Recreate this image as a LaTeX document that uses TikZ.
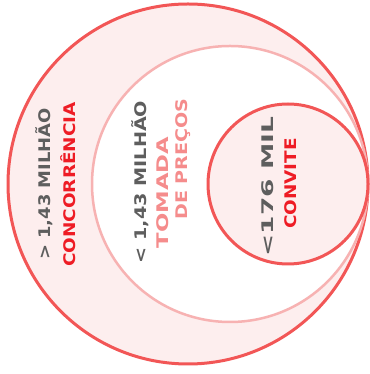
\documentclass[tikz,border=0pt]{standalone}
\usepackage{fontspec}
\setmainfont{DejaVu Sans}
\usepackage{tikz}

\definecolor{ringred}{HTML}{F25656}
\definecolor{ringpink}{HTML}{F7B2B2}
\definecolor{fillpink}{HTML}{FDEEEE}
\definecolor{txtgray}{HTML}{5E5E5E}
\definecolor{txtred}{HTML}{EE1C25}
\definecolor{txtpink}{HTML}{F58C8C}

\tikzset{
  ring/.style={circle, draw=ringred, line width=3pt, fill=fillpink, inner sep=0pt},
  valuelabel/.style={rotate=90, text=txtgray, font=\bfseries\fontsize{16}{16}\selectfont, inner sep=0pt},
  kindlabel/.style={rotate=90, text=txtred, font=\bfseries\fontsize{16}{16}\selectfont, inner sep=0pt}
}

\begin{document}
\begin{tikzpicture}[x=1pt, y=1pt]
  \useasboundingbox (0,0) rectangle (369,374);
  % circles
  \node[ring, minimum size=360pt] (outer) at (188, 190) {};
  \node[ring, draw=ringpink, line width=2.5pt, fill=white, minimum size=276pt] (middle) at (230, 190) {};
  \node[ring, minimum size=160pt] (inner) at (288, 190) {};
  % labels
  \node[valuelabel, xscale=1.12] (concval) at (44, 190) {> 1,43 MILHÃO};
  \node[kindlabel, xscale=1.15] (concname) at (68, 189.5) {CONCORRÊNCIA};
  \node[valuelabel, xscale=1.2] (tomval) at (140, 192) {< 1,43 MILHÃO};
  \node[kindlabel, text=txtpink, xscale=1.42] (tomname) at (163, 181.5) {TOMADA};
  \node[kindlabel, text=txtpink, xscale=1.19] (tomname2) at (183, 215) {DE PREÇOS};
  \node[valuelabel, xscale=1.65] (convval) at (268, 187.5) {<176 MIL};
  \node[kindlabel, xscale=1.15] (convname) at (291, 190.5) {CONVITE};
\end{tikzpicture}
\end{document}
